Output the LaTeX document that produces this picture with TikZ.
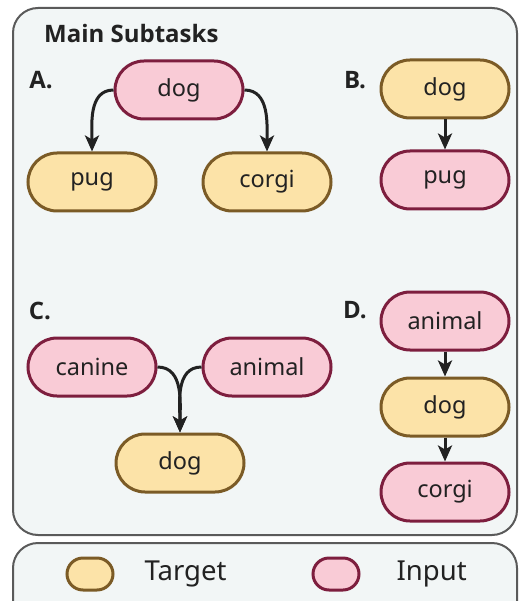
\documentclass[tikz,border=0pt]{standalone}
\usepackage{fontspec}
\setmainfont{Noto Sans}
\newfontfamily\lblfont{Open Sans}
\usetikzlibrary{arrows.meta}
\definecolor{pinkfill}{HTML}{F9CBD6}
\definecolor{pinkdraw}{HTML}{7D1E3E}
\definecolor{yelfill}{HTML}{FCE3A8}
\definecolor{yeldraw}{HTML}{7B5B26}
\definecolor{panelfill}{HTML}{F2F6F6}
\definecolor{panelline}{HTML}{5A5A5A}
\definecolor{txt}{HTML}{222222}
\tikzset{
  x=1pt,y=-1pt,
  pill/.style={rounded corners=29pt,minimum width=128pt,minimum height=58pt,line width=3pt,font=\fontsize{23.5}{26}\selectfont,text=txt,inner sep=0pt},
  inp/.style={pill,fill=pinkfill,draw=pinkdraw},
  tgt/.style={pill,fill=yelfill,draw=yeldraw},
  lbl/.style={font=\lblfont\bfseries\fontsize{24}{26}\selectfont,text=txt,inner sep=0pt},
  arr/.style={-{Stealth[length=16pt,width=14pt,inset=4pt]},line width=3pt,draw=txt},
  panel/.style={rounded corners=25pt,fill=panelfill,draw=panelline,line width=2pt},
}
\begin{document}
\begin{tikzpicture}
\useasboundingbox (0,0) rectangle (519,601);
\fill[white] (0,0) rectangle (519,601);
\begin{scope}
\clip (0,0) rectangle (519,601);
\draw[panel] (13,8) rectangle (517,535);
\draw[panel] (13,543) rectangle (517,640);
\end{scope}
\node[lbl,anchor=west] (title) at (44,34) {Main Subtasks};
\node[lbl] (la) at (41,80) {A.};
\node[lbl] (lb) at (355,80) {B.};
\node[lbl] (lc) at (40,311) {C.};
\node[lbl] (ld) at (355,310) {D.};
% A
\node[inp] (adog) at (179,90) {dog};
\node[tgt] (apug) at (92,182) {pug};
\node[tgt] (acorgi) at (267,182) {corgi};
\draw[arr] (adog.west) to[out=180,in=90] (apug.north);
\draw[arr] (adog.east) to[out=0,in=90] (acorgi.north);
% B
\node[tgt] (bdog) at (445,89) {dog};
\node[inp] (bpug) at (445,180) {pug};
\draw[arr] (bdog) -- (bpug);
% C
\node[inp] (ccanine) at (92,367) {canine};
\node[inp] (canimal) at (267,367) {animal};
\node[tgt] (cdog) at (180,463) {dog};
\draw[arr] (ccanine.east) to[out=0,in=90] (cdog.north);
\draw[arr] (canimal.west) to[out=180,in=90] (cdog.north);
% D
\node[inp] (danimal) at (445,321) {animal};
\node[tgt] (ddog) at (445,407) {dog};
\node[inp] (dcorgi) at (445,492) {corgi};
\draw[arr] (danimal) -- (ddog);
\draw[arr] (ddog) -- (dcorgi);
% legend
\node[tgt,minimum width=46pt,minimum height=32pt,rounded corners=16pt] (ltgt) at (90,574) {};
\node[anchor=west,font=\fontsize{27.5}{30}\selectfont,text=txt] (ltgttxt) at (141,574) {Target};
\node[inp,minimum width=46pt,minimum height=32pt,rounded corners=16pt] (linp) at (336,574) {};
\node[anchor=west,font=\fontsize{27.5}{30}\selectfont,text=txt] (linptxt) at (393,574) {Input};
\end{tikzpicture}
\end{document}
